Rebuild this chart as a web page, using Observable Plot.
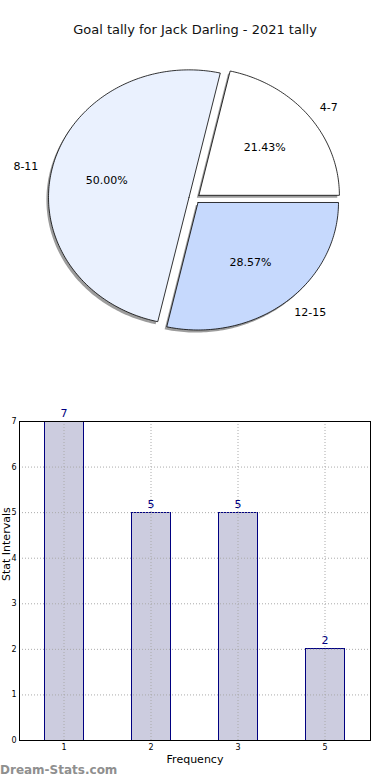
<!DOCTYPE html>
<html>
<head>
<meta charset="utf-8">
<script src="https://cdn.jsdelivr.net/npm/d3@7"></script>
<script src="https://cdn.jsdelivr.net/npm/@observablehq/plot@0.6"></script>
<style>
  html, body { margin: 0; padding: 0; background: #fff; }
  body { font-family: "DejaVu Sans", sans-serif; }
  #page { position: relative; width: 390px; height: 780px; overflow: hidden; }
  #title { position: absolute; top: 21px; left: 0; width: 390px; text-align: center; font-size: 13px; line-height: 18px; color: #111; }
  #pie { position: absolute; top: 0; left: 0; }
  #bars { position: absolute; top: 400px; left: 0; }
  #mark { position: absolute; top: 763px; left: 0; font-size: 12px; color: #8f8f8f; font-weight: 600; }
  svg text { font-family: "DejaVu Sans", sans-serif; }
</style>
</head>
<body>
<div id="page">
  <div id="title">Goal tally for Jack Darling - 2021 tally</div>
  <div id="pie"></div>
  <div id="bars"></div>
  <div id="mark">Dream-Stats.com</div>
</div>
<script>
// ---- Pie data ----
const pieLabels = ["4-7", "8-11", "12-15"];
const pieCounts = [3, 7, 4];
const pieColors = ["#ffffff", "#eaf1fe", "#c6d9fd"];
const explode = 0.04;

// ---- Bar data ----
const barCategories = ["1", "2", "3", "5"];
const barValues = [7, 5, 5, 2];
const yTicks = [0, 1, 2, 3, 4, 5, 6, 7];

// Build pie geometry (unit circle, counterclockwise from 3 o'clock)
const total = d3.sum(pieCounts);
let cum = 0;
const slices = pieCounts.map((v, i) => {
  const a0 = cum / total * 2 * Math.PI;
  cum += v;
  const a1 = cum / total * 2 * Math.PI;
  const mid = (a0 + a1) / 2;
  const ox = explode * Math.cos(mid), oy = explode * Math.sin(mid);
  const pts = [{x: ox, y: oy}];
  const n = Math.max(2, Math.ceil((a1 - a0) / (Math.PI / 180)));
  for (let k = 0; k <= n; k++) {
    const a = a0 + (a1 - a0) * k / n;
    pts.push({x: ox + Math.cos(a), y: oy + Math.sin(a)});
  }
  pts.push({x: ox, y: oy});
  return {
    label: pieLabels[i], color: pieColors[i], pts, mid,
    pct: (v / total * 100).toFixed(2) + "%",
    lx: (1.1 + explode) * Math.cos(mid), ly: (1.1 + explode) * Math.sin(mid),
    px: (0.6 + explode) * Math.cos(mid), py: (0.6 + explode) * Math.sin(mid)
  };
});
const sdx = -0.015, sdy = -0.02;

const pieMarks = [];
for (const s of slices) {
  pieMarks.push(Plot.line(s.pts, {x: d => d.x + sdx, y: d => d.y + sdy, fill: "#3a3a3a", fillOpacity: 0.5, stroke: "none"}));
}
for (const s of slices) {
  pieMarks.push(Plot.line(s.pts, {x: "x", y: "y", fill: s.color, stroke: "#000", strokeWidth: 0.8}));
}
pieMarks.push(Plot.text(slices.filter(s => s.lx >= 0), {x: "lx", y: "ly", text: "label", textAnchor: "start", fontSize: 11, fill: "#000"}));
pieMarks.push(Plot.text(slices.filter(s => s.lx < 0), {x: "lx", y: "ly", text: "label", textAnchor: "end", fontSize: 11, fill: "#000"}));
pieMarks.push(Plot.text(slices, {x: "px", y: "py", text: "pct", fontSize: 11, fill: "#000"}));

const pie = Plot.plot({
  width: 390, height: 360,
  x: {type: "linear", domain: [-1, 1], range: [53.5, 334.5], axis: null},
  y: {type: "linear", domain: [-1, 1], range: [325.5, 70.5], axis: null},
  marks: pieMarks
});
document.getElementById("pie").appendChild(pie);

// ---- Bar chart ----
const barData = barCategories.map((c, i) => ({cat: c, value: barValues[i]}));
const bars = Plot.plot({
  width: 390, height: 380,
  marginTop: 21, marginBottom: 40, marginLeft: 19, marginRight: 20,
  style: {fontSize: "8px", fontFamily: "DejaVu Sans, sans-serif", color: "#000"},
  x: {type: "band", domain: barCategories, paddingInner: 0.55, paddingOuter: 0.275, tickSize: 0, tickPadding: 4, label: null},
  y: {domain: [0, 7], ticks: yTicks, tickSize: 0, tickPadding: 3, label: null, tickFormat: d3.format("d")},
  marks: [
    Plot.barY(barData, {x: "cat", y: "value", fill: "#ccccdf", stroke: "#000080", strokeWidth: 1, shapeRendering: "crispEdges"}),
    Plot.ruleY(yTicks, {y: d => d, stroke: "#aaa", strokeDasharray: "1,2", strokeWidth: 1}),
    Plot.ruleX(barCategories, {x: d => d, stroke: "#aaa", strokeDasharray: "1,2", strokeWidth: 1}),
    Plot.text(barData, {x: "cat", y: "value", text: d => String(d.value), dy: -5, lineAnchor: "bottom", fill: "#000080", fontSize: 11}),
    Plot.frame({stroke: "#000", strokeWidth: 1}),
    Plot.text(["Frequency"], {frameAnchor: "bottom", dy: 22, fontSize: 11, fill: "#000"}),
    Plot.text(["Stat Intervals"], {frameAnchor: "left", rotate: -90, dx: -13, fontSize: 11, fill: "#000"})
  ]
});
document.getElementById("bars").appendChild(bars);
</script>
</body>
</html>
